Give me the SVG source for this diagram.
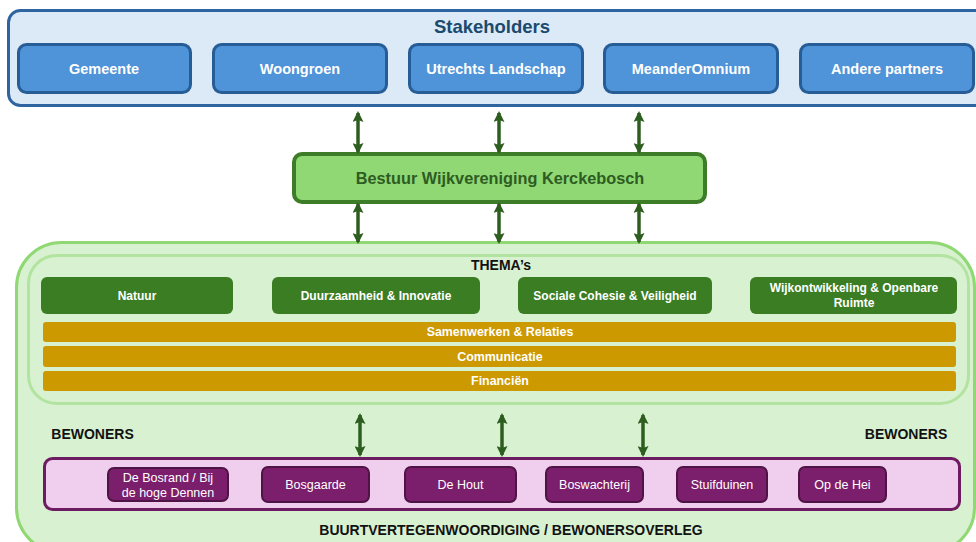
<svg xmlns="http://www.w3.org/2000/svg" width="976" height="542" viewBox="0 0 976 542">
<style>
text{font-family:"Liberation Sans",Arial,sans-serif;text-anchor:middle;dominant-baseline:central}
.sh{fill:#4f93d8;stroke:#275d96;stroke-width:3}
.sht{fill:#fff;font-weight:bold;font-size:14.5px}
.th{fill:#3b7d23}
.tht{fill:#fff;font-weight:bold;font-size:12px}
.bar{fill:#cc9900}
.bart{fill:#fff;font-weight:bold;font-size:12.4px}
.pb{fill:#7b1f6c;stroke:#4f1446;stroke-width:2}
.pbt{fill:#fff;font-size:12.5px}
.lbl{fill:#111;font-weight:bold;font-size:14px}
.arr{stroke:#2e5e1f;stroke-width:3.5;fill:none;marker-start:url(#ah);marker-end:url(#ah)}
</style>
<defs>
<marker id="ah" viewBox="0 0 11 11" refX="9" refY="5.5" markerWidth="11" markerHeight="11" markerUnits="userSpaceOnUse" orient="auto-start-reverse">
<path d="M0,0 L11,5.5 L0,11 L2,5.5 z" fill="#2e5e1f"/>
</marker>
</defs>
<rect width="976" height="542" fill="#fff"/>

<g id="stakeholders">
<rect x="8.5" y="10.5" width="980" height="95" rx="12" fill="#dce9f6" stroke="#2e65a0" stroke-width="3"/>
<text x="492" y="26" style="fill:#1a4a6e;font-weight:bold;font-size:18.5px">Stakeholders</text>
</g>
<g id="gemeente"><rect class="sh" x="18.5" y="44.5" width="172" height="48" rx="8"/><text class="sht" x="104" y="69">Gemeente</text></g>
<g id="woongroen"><rect class="sh" x="213.5" y="44.5" width="173" height="48" rx="8"/><text class="sht" x="300" y="69">Woongroen</text></g>
<g id="utrechts-landschap"><rect class="sh" x="409.5" y="44.5" width="173" height="48" rx="8"/><text class="sht" x="496" y="69">Utrechts Landschap</text></g>
<g id="meanderomnium"><rect class="sh" x="604.5" y="44.5" width="173" height="48" rx="8"/><text class="sht" x="691" y="69">MeanderOmnium</text></g>
<g id="andere-partners"><rect class="sh" x="800.5" y="44.5" width="173" height="48" rx="8"/><text class="sht" x="887" y="69">Andere partners</text></g>

<g id="bestuur">
<rect x="294" y="154" width="411" height="48" rx="8" fill="#8fd873" stroke="#3d7d28" stroke-width="4"/>
<text x="500" y="178" style="fill:#2e5c22;font-weight:bold;font-size:16.3px">Bestuur Wijkvereniging Kerckebosch</text>
</g>

<g id="wijk">
<rect x="16.5" y="242.5" width="958" height="310" rx="45" fill="#d8f1d0" stroke="#8fd873" stroke-width="3"/>
<rect x="28.5" y="255.5" width="940" height="148" rx="28" fill="#d8f1d0" stroke="#b3e3a1" stroke-width="3"/>
<text class="lbl" x="501" y="265">THEMA’s</text>
<text class="lbl" x="92.5" y="434">BEWONERS</text>
<text class="lbl" x="906" y="434">BEWONERS</text>
<text class="lbl" x="511" y="530">BUURTVERTEGENWOORDIGING / BEWONERSOVERLEG</text>
</g>

<g id="natuur"><rect class="th" x="41" y="277" width="192" height="37" rx="6"/><text class="tht" x="137" y="296">Natuur</text></g>
<g id="duurzaamheid"><rect class="th" x="272" y="277" width="208" height="37" rx="6"/><text class="tht" x="376" y="296">Duurzaamheid &amp; Innovatie</text></g>
<g id="sociale-cohesie"><rect class="th" x="518" y="277" width="194" height="37" rx="6"/><text class="tht" x="615" y="296">Sociale Cohesie &amp; Veiligheid</text></g>
<g id="wijkontwikkeling"><rect class="th" x="750" y="277" width="207" height="37" rx="6"/><text class="tht" x="854" y="288">Wijkontwikkeling &amp; Openbare</text><text class="tht" x="854" y="303">Ruimte</text></g>

<g id="samenwerken"><rect class="bar" x="43" y="322" width="913" height="20" rx="3"/><text class="bart" x="500" y="332">Samenwerken &amp; Relaties</text></g>
<g id="communicatie"><rect class="bar" x="43" y="346" width="913" height="21" rx="3"/><text class="bart" x="500" y="356.5">Communicatie</text></g>
<g id="financien"><rect class="bar" x="43" y="371" width="913" height="20" rx="3"/><text class="bart" x="500" y="381">Financiën</text></g>

<g id="buurten">
<rect x="44.5" y="458.5" width="915" height="51" rx="8" fill="#f0cfee" stroke="#6e1c61" stroke-width="3"/>
</g>
<g id="bosrand"><rect class="pb" x="108" y="468" width="120" height="33" rx="6"/><text class="pbt" x="168" y="477.5">De Bosrand / Bij</text><text class="pbt" x="168" y="492.5">de hoge Dennen</text></g>
<g id="bosgaarde"><rect class="pb" x="262" y="467" width="107" height="35" rx="6"/><text class="pbt" x="315.5" y="485">Bosgaarde</text></g>
<g id="de-hout"><rect class="pb" x="405" y="467" width="111" height="35" rx="6"/><text class="pbt" x="460.5" y="485">De Hout</text></g>
<g id="boswachterij"><rect class="pb" x="546" y="467" width="97" height="35" rx="6"/><text class="pbt" x="594.5" y="485">Boswachterij</text></g>
<g id="stuifduinen"><rect class="pb" x="677" y="467" width="90" height="35" rx="6"/><text class="pbt" x="722" y="485">Stuifduinen</text></g>
<g id="op-de-hei"><rect class="pb" x="799" y="467" width="87" height="35" rx="6"/><text class="pbt" x="842.5" y="485">Op de Hei</text></g>

<g id="connectors">
<line class="arr" x1="358" y1="113" x2="358" y2="152"/>
<line class="arr" x1="499" y1="113" x2="499" y2="152"/>
<line class="arr" x1="639" y1="113" x2="639" y2="152"/>
<line class="arr" x1="358" y1="204" x2="358" y2="242"/>
<line class="arr" x1="499" y1="204" x2="499" y2="242"/>
<line class="arr" x1="639" y1="204" x2="639" y2="242"/>
<line class="arr" x1="360" y1="415" x2="360" y2="455"/>
<line class="arr" x1="502" y1="415" x2="502" y2="455"/>
<line class="arr" x1="643" y1="415" x2="643" y2="455"/>
</g>
</svg>
